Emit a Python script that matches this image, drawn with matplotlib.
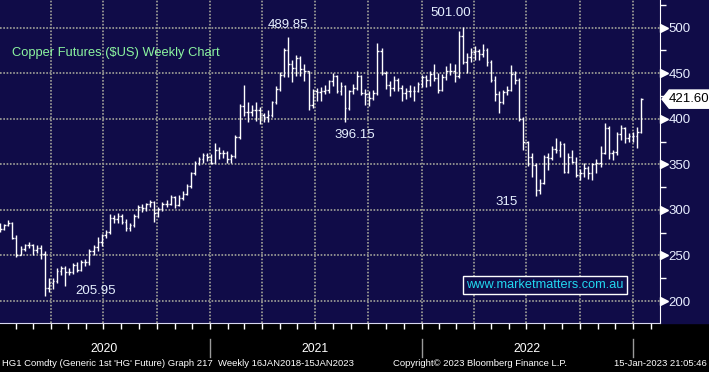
import matplotlib
matplotlib.use("Agg")
from matplotlib import pyplot as plt
import matplotlib.dates as mdates
import matplotlib.transforms as mtransforms
from matplotlib.patches import Rectangle, Polygon
from matplotlib.ticker import MultipleLocator, NullFormatter
import numpy as np
import pandas as pd

plt.rcParams['font.family'] = ['Liberation Sans', 'DejaVu Sans']

# weekly bars (week ending Friday), 27-Dec-2019 .. 13-Jan-2023
week_end = pd.date_range('2019-12-27', periods=160, freq='W-FRI')

opens = [
    280,
    # 2020
    283, 279, 283, 286, 269, 251, 257, 262, 262, 256, 258, 252, 214, 220, 222, 233,
    236, 232, 232, 240, 234, 243, 243, 255, 259, 265, 272, 276, 291, 290, 293, 287,
    280, 283, 293, 303, 302, 306, 309, 297, 301, 307, 307, 314, 305, 313, 318, 326,
    340, 352, 356, 360,
    # 2021
    358, 352, 366, 363, 363, 356, 359, 380, 414, 408, 407, 410, 410, 404, 402, 404,
    418, 433, 448, 475, 460, 456, 467, 455, 452, 415, 430, 429, 430, 432, 441, 447,
    430, 436, 412, 430, 434, 447, 428, 427, 423, 428, 474, 450, 437, 434, 443, 434,
    428, 430, 431, 431, 438,
    # 2022
    446, 443, 449, 445, 432, 446, 453, 453, 447, 491, 462, 468, 473, 474, 471, 475,
    462, 443, 427, 418, 429, 432, 449, 443, 400, 374, 358, 349, 322, 330, 358, 357,
    367, 366, 372, 342, 358, 353, 338, 341, 346, 340, 350, 351, 362, 390, 362, 364,
    383, 390, 379, 381,
    # 2023
    381, 385,
]
highs = [
    285,
    286, 285, 289, 287, 272, 260, 263, 265, 263, 262, 262, 255, 225, 225, 236, 238,
    238, 236, 242, 243, 245, 246, 257, 262, 270, 273, 278, 296, 294, 297, 295, 290,
    286, 295, 305, 307, 308, 311, 310, 303, 309, 311, 316, 315, 316, 321, 328, 342,
    354, 358, 363, 362,
    361, 373, 369, 366, 365, 361, 382, 416, 437, 418, 415, 418, 413, 406, 410, 419,
    436, 451, 478, 489.85, 465, 470, 469, 460, 453, 433, 434, 435, 437, 443, 450, 448,
    440, 437, 432, 438, 452, 448, 433, 430, 432, 483, 478, 452, 441, 447, 445, 437,
    434, 437, 436, 440, 448,
    448, 453, 460, 450, 449, 458, 461, 460, 496, 501, 472, 478, 480, 477, 482, 478,
    465, 447, 430, 432, 436, 459, 452, 445, 402, 376, 362, 351, 334, 360, 362, 370,
    379, 376, 373, 362, 366, 358, 345, 352, 348, 351, 356, 370, 395, 392, 366, 386,
    393, 391, 384, 386,
    391, 423,
]
lows = [
    278,
    276, 278, 282, 268, 248, 250, 255, 258, 251, 253, 246, 205.95, 210, 213, 220, 228,
    216, 228, 230, 232, 233, 238, 240, 251, 255, 260, 269, 274, 286, 286, 284, 277,
    277, 281, 291, 298, 299, 303, 287, 292, 299, 303, 305, 302, 304, 311, 316, 324,
    338, 349, 351, 354,
    350, 351, 356, 357, 351, 352, 357, 378, 403, 397, 403, 398, 394, 397, 396, 402,
    416, 430, 446, 446, 440, 447, 447, 442, 410, 412, 420, 420, 427, 428, 436, 428,
    426, 396.15, 410, 427, 432, 426, 415, 414, 421, 426, 448, 433, 425, 430, 430, 420,
    422, 424, 419, 429, 435,
    435, 436, 441, 428, 430, 443, 448, 440, 445, 460, 450, 462, 465, 465, 468, 458,
    440, 420, 406, 416, 426, 430, 438, 398, 366, 348, 336, 315, 318, 328, 344, 355,
    362, 358, 340, 340, 352, 336, 333, 336, 334, 333, 340, 347, 361, 356, 355, 360,
    377, 373, 375, 374,
    368, 384,
]
closes = [
    283,
    279, 283, 286, 269, 251, 257, 262, 262, 256, 258, 252, 214, 220, 222, 233, 236,
    232, 232, 240, 234, 243, 243, 255, 259, 265, 272, 276, 291, 290, 293, 287, 280,
    283, 293, 303, 302, 306, 309, 297, 301, 307, 307, 314, 305, 313, 318, 326, 340,
    352, 356, 360, 358,
    352, 366, 363, 363, 356, 359, 380, 414, 408, 407, 410, 410, 404, 402, 404, 418,
    433, 448, 475, 460, 456, 467, 455, 452, 415, 430, 429, 430, 432, 441, 447, 430,
    436, 412, 430, 434, 447, 428, 427, 423, 428, 474, 450, 437, 434, 443, 434, 428,
    430, 431, 431, 438, 446,
    443, 449, 445, 432, 446, 453, 453, 447, 491, 462, 468, 473, 474, 471, 475, 462,
    443, 427, 418, 429, 432, 449, 443, 400, 374, 358, 349, 322, 330, 358, 357, 367,
    366, 372, 342, 358, 353, 338, 341, 346, 340, 350, 351, 362, 390, 362, 364, 383,
    390, 379, 381, 381,
    385, 421.60,
]

y_major = [200, 250, 300, 350, 400, 450, 500]
year_labels = ['2020', '2021', '2022']
callouts = [('205.95', '2020-06-17', 211), ('489.85', '2021-05-16', 503),
            ('396.15', '2021-09-07', 382), ('501.00', '2022-02-20', 516),
            ('315', '2022-05-28', 308.5)]

navy = '#100c48'
fig = plt.figure(figsize=(7.09, 3.72), dpi=100, facecolor='black')
fig.patches.append(Rectangle((660 / 709, 49 / 372), 49 / 709, 323 / 372,
                             transform=fig.transFigure, color=navy, zorder=-5))
ax = fig.add_axes([0, 49 / 372, 660 / 709, 323 / 372])
ax.set_facecolor(navy)

# OHLC bars
x = mdates.date2num(week_end) + 2
half = 2.5
ax.vlines(x, lows, highs, color='white', linewidth=1.0, zorder=3)
ax.hlines(opens, x - half, x, color='white', linewidth=1.0, zorder=3)
ax.hlines(closes, x, x + half, color='white', linewidth=1.0, zorder=3)

d21 = mdates.date2num(pd.Timestamp('2021-01-01'))
d23 = mdates.date2num(pd.Timestamp('2023-01-01'))
ppd = 423 / 730.0
ax.set_xlim(d21 - 210 / ppd, d23 + 27 / ppd)
ax.set_ylim(200 - 22 / 0.911, 500 + 27.7 / 0.911)

# grid
ax.xaxis.set_major_locator(mdates.MonthLocator(bymonth=[1, 4, 7, 10]))
ax.xaxis.set_minor_locator(mdates.MonthLocator())
ax.xaxis.set_major_formatter(NullFormatter())
ax.yaxis.set_major_locator(MultipleLocator(50))
ax.yaxis.set_minor_locator(MultipleLocator(25))
ax.grid(which='major', color='#8e8e8e', linestyle=(0, (0.85, 0.85)), linewidth=1.4)
ax.set_axisbelow(True)

for s in ['top', 'left']:
    ax.spines[s].set_visible(False)
ax.spines['right'].set_color('white')
ax.spines['bottom'].set_color('#d8d8f0')
ax.tick_params(axis='x', which='both', colors='white', length=4, width=1, direction='out')
ax.yaxis.tick_right()
ax.tick_params(axis='y', which='major', length=0, pad=6, labelsize=9.5, labelcolor='#e8eeff')
ax.tick_params(axis='y', which='minor', length=4, width=1, colors='white', direction='out')

ylab = mtransforms.blended_transform_factory(ax.transAxes, ax.transData)
ax.plot([1 + 4 / 660] * len(y_major), y_major, linestyle='none', marker='>', markersize=5.5,
        color='white', transform=ylab, clip_on=False, zorder=5)

# last price tag
last = closes[-1]
tag = Polygon([(1.003, last), (1.014, last + 10), (1.08, last + 10), (1.08, last - 10),
               (1.014, last - 10)], closed=True, transform=ylab, facecolor='white',
              edgecolor='white', clip_on=False, zorder=6)
ax.add_patch(tag)
ax.text(1.0445, last, '{:.2f}'.format(last), transform=ylab, ha='center', va='center',
        fontsize=9.5, color='black', zorder=7)

# year labels and separators
xb = mtransforms.blended_transform_factory(ax.transData, ax.transAxes)
for i, yr in enumerate(year_labels):
    mid = mdates.date2num(pd.Timestamp(yr + '-07-02'))
    ax.text(mid, -0.08, yr, transform=xb, ha='center', va='center', fontsize=8.8,
            color='white', clip_on=False)
for yr in ['2021', '2022', '2023']:
    d = mdates.date2num(pd.Timestamp(yr + '-01-01'))
    ax.plot([d, d], [-0.05, -0.105], color='#9a9a9a', linewidth=1, transform=xb, clip_on=False)

# callouts
for txt, d, yv in callouts:
    ax.text(mdates.date2num(pd.Timestamp(d)), yv, txt, ha='center', va='center',
            fontsize=9.5, color='#e6f0ff', zorder=4)

ax.text(12 / 660, 1 - 53 / 323, 'Copper Futures ($US) Weekly Chart', transform=ax.transAxes,
        ha='left', va='center', fontsize=9.3, color='#8cf5a0')
ax.text(545 / 660, 1 - 285 / 323, 'www.marketmatters.com.au', transform=ax.transAxes,
        ha='center', va='center', fontsize=9.2, color='#22d8f0',
        bbox=dict(boxstyle='square,pad=0.25', facecolor=navy, edgecolor='white', linewidth=1))

# status line
fs = 6.8
fig.text(2 / 709, 8 / 372, "HG1 Comdty (Generic 1st 'HG' Future) Graph 217", fontsize=fs,
         color='white', ha='left', va='center')
fig.text(218 / 709, 8 / 372, 'Weekly 16JAN2018-15JAN2023', fontsize=fs, color='white',
         ha='left', va='center')
fig.text(393 / 709, 8 / 372, 'Copyright© 2023 Bloomberg Finance L.P.', fontsize=fs,
         color='white', ha='left', va='center')
fig.text(707 / 709, 8 / 372, '15-Jan-2023 21:05:46', fontsize=fs, color='white',
         ha='right', va='center')

fig.savefig('out.png', dpi=100, facecolor='black')
